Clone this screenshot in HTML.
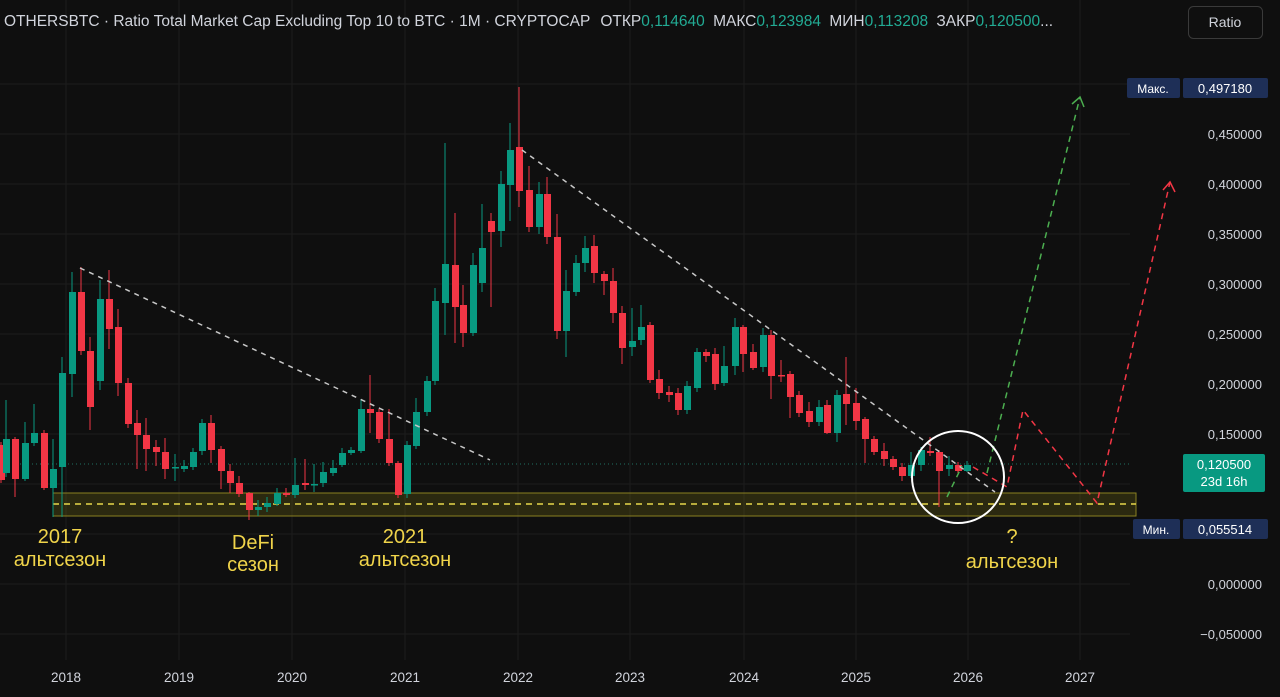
<!DOCTYPE html>
<html><head><meta charset="utf-8"><style>
html,body{margin:0;padding:0;background:#0f0f0f;}
body{width:1280px;height:697px;overflow:hidden;position:relative;font-family:"Liberation Sans",sans-serif;}
svg{position:absolute;left:0;top:0}
</style></head><body>
<svg id="s" width="1280" height="697" xmlns="http://www.w3.org/2000/svg"></svg>
<script>
const s=document.getElementById('s');let h='';
for(let y=134;y<=634;y+=50)h+=`<line x1="0" x2="1130" y1="${y}" y2="${y}" stroke="#1c1c1c"/>`;
h+=`<line x1="0" x2="1130" y1="84" y2="84" stroke="#1c1c1c"/>`;
const yrs=[[66,'2018'],[179,'2019'],[292,'2020'],[405,'2021'],[518,'2022'],[630,'2023'],[744,'2024'],[856,'2025'],[968,'2026'],[1080,'2027']];
yrs.forEach(([x,t])=>{h+=`<line x1="${x}" x2="${x}" y1="0" y2="660" stroke="#1c1c1c"/><text x="${x}" y="682" fill="#d1d4dc" font-size="13.5" text-anchor="middle">${t}</text>`});
h+=`<rect x="53" y="493" width="1083" height="23" fill="rgba(120,110,20,0.28)" stroke="#8a8020" stroke-width="1"/>`;
h+=`<line x1="53" x2="1136" y1="504" y2="504" stroke="#e8d84a" stroke-width="1.5" stroke-dasharray="6,5"/>`;
h+=`<line x1="0" x2="1130" y1="464" y2="464" stroke="#1f6f60" stroke-dasharray="1,3"/>`;
const C=[[1,445,480],[6,473,439,400,477],[15,439,479,437,497],[25,479,443,422,481],[34,443,433,404,446],[44,433,488,430,490],[53,488,469,439,517],[62,467,373,357,517],[72,374,292,272,397],[81,292,351,267,355],[90,351,407,337,430],[100,381,299,280,390],[109,299,329,270,349],[118,327,383,309,396],[128,383,424,378,428],[137,423,435,410,469],[146,435,449,418,471],[156,447,452,440,466],[165,452,469,438,479],[175,468,467,454,481],[184,469,466,460,472],[193,467,452,448,470],[202,451,423,419,455],[211,423,450,415,463],[221,449,471,446,489],[230,471,483,464,493],[239,483,494,476,497],[249,493,510,492,520],[258,510,507,500,516],[267,507,503,497,512],[277,504,493,488,506],[286,493,495,488,497],[295,495,485,458,498],[305,483,485,459,490],[314,485,484,464,492],[323,483,472,462,487],[333,473,468,460,476],[342,465,453,448,467],[351,453,450,447,455],[361,451,409,399,453],[370,409,413,375,433],[379,412,439,409,443],[389,439,463,409,466],[398,463,495,461,498],[407,494,445,441,498],[416,446,412,398,449],[427,412,381,376,416],[435,381,301,288,385],[445,303,264,143,335],[455,265,307,213,343],[463,305,333,285,347],[473,333,265,253,336],[482,283,248,204,292],[491,221,232,213,307],[501,231,184,171,247],[510,185,150,123,221],[519,147,191,87,207],[529,190,227,166,232],[539,227,194,182,234],[547,194,237,177,244],[557,237,331,214,339],[566,331,291,270,357],[576,292,263,255,296],[585,263,248,236,272],[594,246,273,235,283],[604,274,281,271,295],[613,281,313,268,323],[622,313,348,306,364],[632,347,341,308,356],[641,340,327,305,345],[650,325,380,322,383],[659,379,393,370,399],[669,392,395,386,402],[678,393,410,388,415],[687,410,386,381,414],[697,388,352,348,392],[706,352,356,349,362],[715,354,384,348,390],[724,383,366,346,386],[735,366,327,318,375],[743,327,354,325,372],[753,352,368,344,370],[763,367,335,328,372],[771,335,376,330,399],[781,375,375,360,382],[790,374,397,371,418],[799,395,413,391,417],[809,411,422,402,427],[819,422,407,400,426],[827,405,433,400,434],[837,433,395,390,442],[846,394,404,357,425],[856,403,421,388,430],[865,419,439,417,463],[874,439,452,436,455],[884,451,459,443,466],[893,459,467,456,470],[902,467,476,463,481],[911,476,465,452,478],[921,465,450,447,471],[930,451,453,437,456],[939,452,471,450,507],[949,469,465,456,476],[958,465,471,462,473],[967,471,465,461,472]];
C.forEach(([x,o,c,hi,lo])=>{const g=c<o;const col=g?'#089981':'#f23645';hi=hi??Math.min(o,c)-3;lo=lo??Math.max(o,c)+3;const t=Math.min(o,c),b=Math.max(Math.abs(o-c),1.5);
h+=`<line x1="${x}" x2="${x}" y1="${hi}" y2="${lo}" stroke="${col}" stroke-width="1"/><rect x="${x-3}" y="${t}" width="7" height="${b}" fill="${col}"/>`;});
h+=`<line x1="80" y1="268" x2="490" y2="460" stroke="#c8c8c8" stroke-width="1.5" stroke-dasharray="5,5"/>`;
h+=`<line x1="522" y1="150" x2="995" y2="492" stroke="#c8c8c8" stroke-width="1.5" stroke-dasharray="5,5"/>`;
h+=`<polyline points="947,497 962,466" fill="none" stroke="#4caf50" stroke-width="1.5" stroke-dasharray="6,5"/>`;
h+=`<polyline points="987,473 1080,97" fill="none" stroke="#4caf50" stroke-width="1.5" stroke-dasharray="6,5"/>`;
h+=`<polyline points="1072,104 1080,97 1084,107" fill="none" stroke="#4caf50" stroke-width="1.5"/>`;
h+=`<polyline points="973,467 1007,487 1023,410 1097,503 1170,182" fill="none" stroke="#f23645" stroke-width="1.5" stroke-dasharray="6,5"/>`;
h+=`<polyline points="1163,190 1170,182 1175,192" fill="none" stroke="#f23645" stroke-width="1.5"/>`;
h+=`<circle cx="958" cy="477" r="46" fill="none" stroke="#ffffff" stroke-width="2"/>`;
const Y='#f0d44a';
[[60,543,'2017'],[60,566,'альтсезон'],[253,549,'DeFi'],[253,571,'сезон'],[405,543,'2021'],[405,566,'альтсезон'],[1012,543,'?'],[1012,568,'альтсезон']].forEach(([x,y,t])=>h+=`<text x="${x}" y="${y}" fill="${Y}" font-size="20" text-anchor="middle">${t}</text>`);
const P=[[134,'0,450000'],[184,'0,400000'],[234,'0,350000'],[284,'0,300000'],[334,'0,250000'],[384,'0,200000'],[434,'0,150000'],[584,'0,000000'],[634,'−0,050000']];
P.forEach(([y,t])=>h+=`<text x="1262" y="${y+5}" fill="#d1d4dc" font-size="13" text-anchor="end">${t}</text>`);
h+=`<rect x="1127" y="78" width="53" height="20" rx="2" fill="#1e2f57"/><text x="1153" y="93" fill="#fff" font-size="12" text-anchor="middle">Макс.</text>`;
h+=`<rect x="1183" y="78" width="85" height="20" rx="2" fill="#1e2f57"/><text x="1225" y="93" fill="#fff" font-size="13" text-anchor="middle">0,497180</text>`;
h+=`<rect x="1133" y="519" width="47" height="20" rx="2" fill="#1e2f57"/><text x="1156" y="534" fill="#fff" font-size="12" text-anchor="middle">Мин.</text>`;
h+=`<rect x="1183" y="519" width="85" height="20" rx="2" fill="#1e2f57"/><text x="1225" y="534" fill="#fff" font-size="13" text-anchor="middle">0,055514</text>`;
h+=`<rect x="1183" y="454" width="82" height="38" rx="2" fill="#089981"/><text x="1224" y="469" fill="#fff" font-size="13" text-anchor="middle">0,120500</text><text x="1224" y="486" fill="#fff" font-size="13" text-anchor="middle">23d 16h</text>`;
h+=`<rect x="1188.5" y="6.5" width="74" height="32" rx="5" fill="#0f0f0f" stroke="#3a3a3a"/><text x="1225" y="27" fill="#d1d4dc" font-size="14" text-anchor="middle">Ratio</text>`;
h+=`<text x="4" y="26" font-size="15.5" fill="#d1d4dc">OTHERSBTC · Ratio Total Market Cap Excluding Top 10 to BTC · 1M · CRYPTOCAP  <tspan dx="6">ОТКР</tspan><tspan fill="#22ab94">0,114640</tspan> <tspan dx="4">МАКС</tspan><tspan fill="#22ab94">0,123984</tspan> <tspan dx="4">МИН</tspan><tspan fill="#22ab94">0,113208</tspan> <tspan dx="4">ЗАКР</tspan><tspan fill="#22ab94">0,120500</tspan><tspan fill="#d1d4dc">...</tspan></text>`;
s.innerHTML=h;
</script>
</body></html>
